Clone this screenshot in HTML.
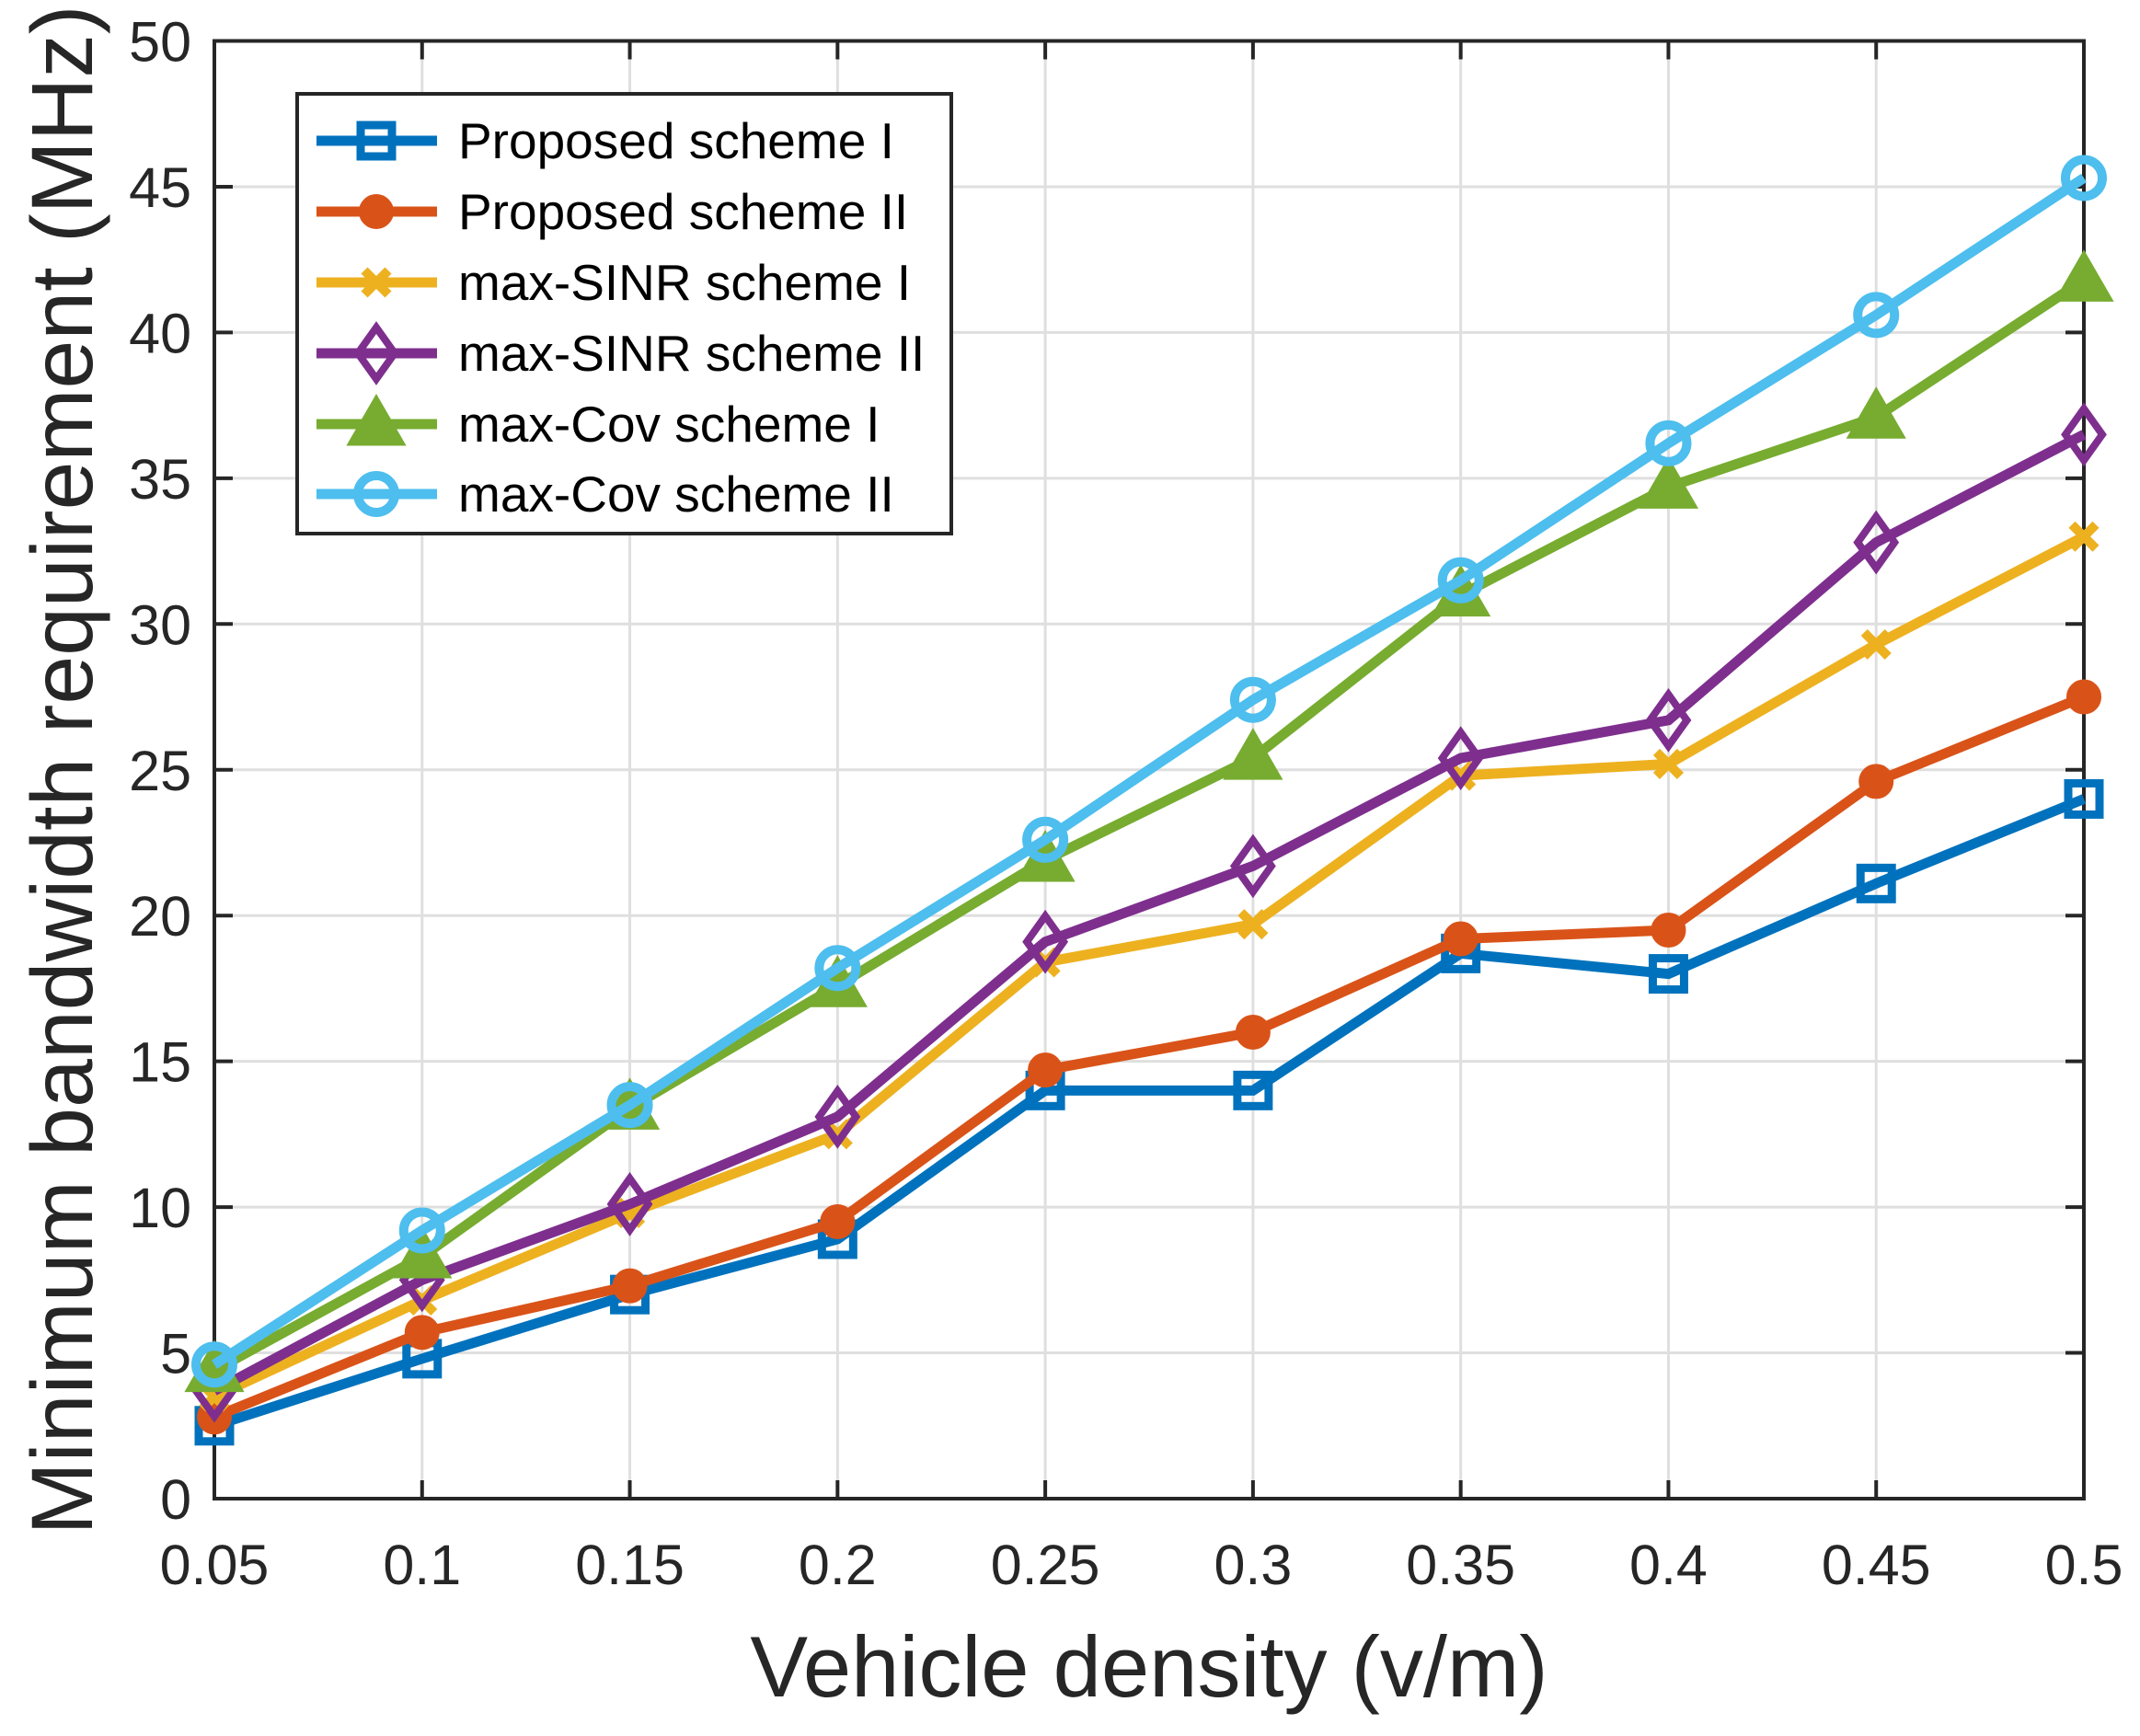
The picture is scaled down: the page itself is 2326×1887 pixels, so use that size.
<!DOCTYPE html>
<html><head><meta charset="utf-8"><style>
html,body{margin:0;padding:0;background:#fff}
svg{display:block;font-family:"Liberation Sans",Arial,sans-serif}
</style></head><body>
<svg id="chart" width="2326" height="1887" viewBox="0 0 2326 1887" xmlns="http://www.w3.org/2000/svg">
<rect width="2326" height="1887" fill="#fff"/>
<g id="grid"></g>
<g id="axes"></g>
<g id="series"></g>
<g id="legend"></g>
<text transform="translate(100,837) rotate(-90)" text-anchor="middle" font-size="95" fill="#262626">Minimum bandwidth requirement (MHz)</text>
<text x="1249" y="1844" text-anchor="middle" font-size="94" fill="#262626">Vehicle density (v/m)</text>
</svg>
<script>
const categories = [0.05,0.1,0.15,0.2,0.25,0.3,0.35,0.4,0.45,0.5];
const xTickLabels = ["0.05","0.1","0.15","0.2","0.25","0.3","0.35","0.4","0.45","0.5"];
const yTicks = [0,5,10,15,20,25,30,35,40,45,50];
const seriesNames = ["Proposed scheme I","Proposed scheme II","max-SINR scheme I","max-SINR scheme II","max-Cov scheme I","max-Cov scheme II"];
const proposed1 = [2.5,4.8,7.0,8.9,14.0,14.0,18.7,18.0,21.1,24.0];
const proposed2 = [2.8,5.7,7.3,9.5,14.7,16.0,19.2,19.5,24.6,27.5];
const maxSinr1 = [3.5,6.8,9.8,12.5,18.4,19.7,24.8,25.2,29.3,33.0];
const maxSinr2 = [3.7,7.5,10.1,13.1,19.1,21.7,25.4,26.7,32.8,36.5];
const maxCov1 = [4.4,8.3,13.4,17.6,21.9,25.4,31.0,34.7,37.1,41.8];
const maxCov2 = [4.6,9.2,13.5,18.2,22.6,27.4,31.5,36.2,40.6,45.3];

const NS="http://www.w3.org/2000/svg";
const L=233,R=2265,T=44.5,B=1629;
const xMin=0.05,xMax=0.5,yMin=0,yMax=50;
function xs(v){return L+(v-xMin)/(xMax-xMin)*(R-L);}
function ys(v){return B-(v-yMin)/(yMax-yMin)*(B-T);}
function mk(tag,attrs,parent){const e=document.createElementNS(NS,tag);for(const k in attrs)e.setAttribute(k,attrs[k]);parent.appendChild(e);return e;}
const grid=document.getElementById('grid'),axes=document.getElementById('axes'),ser=document.getElementById('series'),leg=document.getElementById('legend');
categories.forEach((c,i)=>{
  const x=xs(c);
  const g=mk('line',{x1:x,x2:x,y1:T,y2:B,stroke:'#dfdfdf','stroke-width':3},grid);
  
  
  const t1=mk('line',{x1:x,x2:x,y1:B,y2:B-20,stroke:'#262626','stroke-width':4},axes);
  
  
  const t2=mk('line',{x1:x,x2:x,y1:T,y2:T+20,stroke:'#262626','stroke-width':4},axes);
  
  
  const tx=mk('text',{x:x,y:1722,'text-anchor':'middle','font-size':61,fill:'#262626'},axes);
  tx.textContent=xTickLabels[i];
  
  
});
yTicks.forEach(v=>{
  const y=ys(v);
  const g=mk('line',{x1:L,x2:R,y1:y,y2:y,stroke:'#dfdfdf','stroke-width':3},grid);
  
  
  const t1=mk('line',{x1:L,x2:L+20,y1:y,y2:y,stroke:'#262626','stroke-width':4},axes);
  
  
  const t2=mk('line',{x1:R,x2:R-20,y1:y,y2:y,stroke:'#262626','stroke-width':4},axes);
  
  
  const tx=mk('text',{x:208,y:y+22,'text-anchor':'end','font-size':61,fill:'#262626'},axes);
  tx.textContent=String(v);
  
  
});
const box=mk('rect',{x:L,y:T,width:R-L,height:B-T,fill:'none',stroke:'#262626','stroke-width':4},axes);



const colors=['#0072BD','#D95319','#EDB120','#7E2F8E','#77AC30','#4DBEEE'];
const markers=['square','circle','x','diamond','triangle','ocircle'];
const allData=[proposed1,proposed2,maxSinr1,maxSinr2,maxCov1,maxCov2];
function marker(type,x,y,c,parent){
  let e;
  if(type==='square') e=mk('rect',{x:x-17,y:y-17,width:34,height:34,fill:'none',stroke:c,'stroke-width':9},parent);
  else if(type==='circle') e=mk('circle',{cx:x,cy:y,r:16,fill:c,stroke:c,'stroke-width':6},parent);
  else if(type==='x'){e=mk('path',{d:`M${x-13},${y-13}L${x+13},${y+13}M${x-13},${y+13}L${x+13},${y-13}`,stroke:c,'stroke-width':10,fill:'none'},parent);}
  else if(type==='diamond') e=mk('path',{d:`M${x},${y-28}L${x+20},${y}L${x},${y+28}L${x-20},${y}Z`,fill:'none',stroke:c,'stroke-width':8},parent);
  else if(type==='triangle') e=mk('path',{d:`M${x},${y-30}L${x+30},${y+22}L${x-30},${y+22}Z`,fill:c,stroke:c,'stroke-width':3},parent);
  else e=mk('circle',{cx:x,cy:y,r:20,fill:'none',stroke:c,'stroke-width':10},parent);
  return e;
}
allData.forEach((d,si)=>{
  const g=mk('g',{},ser);
  
  
  const pts=d.map((v,i)=>xs(categories[i])+','+ys(v)).join(' ');
  const pl=mk('polyline',{points:pts,fill:'none',stroke:colors[si],'stroke-width':11,'stroke-linejoin':'miter'},g);
  
  
  d.forEach((v,i)=>{
    const m=marker(markers[si],xs(categories[i]),ys(v),colors[si],g);
    
    
  });
});
const lb=mk('rect',{x:323,y:102,width:711,height:478,fill:'#fff',stroke:'#262626','stroke-width':4},leg);


const legY=[153,230,307,384,461,537];
seriesNames.forEach((n,i)=>{
  const g=mk('g',{},leg);
  
  
  mk('line',{x1:344,x2:475,y1:legY[i],y2:legY[i],stroke:colors[i],'stroke-width':11},g);
  marker(markers[i],409,legY[i],colors[i],g);
  const t=mk('text',{x:498,y:legY[i]+19,'font-size':55,fill:'#000'},g);
  t.textContent=n;
});
</script>
</body></html>
